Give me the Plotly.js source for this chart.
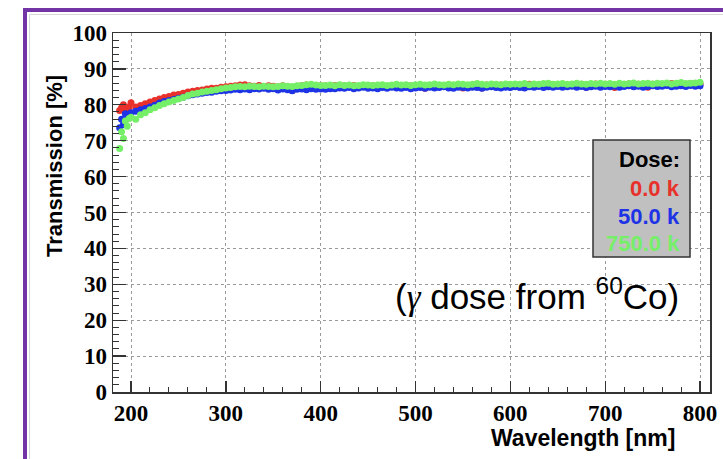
<!DOCTYPE html>
<html>
<head>
<meta charset="utf-8">
<script src="https://cdn.plot.ly/plotly-3.0.1.min.js"></script>
<style>html,body{margin:0;padding:0;background:#fff;}#chart{width:723px;height:459px;}</style>
</head>
<body>
<div id="chart"></div>
<script>
// Wavelength [nm]
var wavelength = [188,190,192,194,196,198,200,
205,210,215,220,225,230,235,240,245,250,
255,260,265,270,275,280,285,290,295,300,
305,310,315,320,325,330,335,340,345,350,
355,360,365,370,375,380,385,390,395,400,
405,410,415,420,425,430,435,440,445,450,
455,460,465,470,475,480,485,490,495,500,
505,510,515,520,525,530,535,540,545,550,
555,560,565,570,575,580,585,590,595,600,
605,610,615,620,625,630,635,640,645,650,
655,660,665,670,675,680,685,690,695,700,
705,710,715,720,725,730,735,740,745,750,
755,760,765,770,775,780,785,790,795,800];

// Transmission [%], dose 0.0 k
var trans0k = [78.4,79.2,80.0,78.8,79.0,79.4,80.6,
79.4,79.8,80.3,80.8,81.2,81.6,82.0,82.3,82.7,82.9,
83.2,83.6,83.8,84.0,84.1,84.4,84.6,84.6,84.9,85.0,
85.2,85.3,85.5,85.6,85.3,85.2,85.4,85.1,85.3,85.2,
85.0,85.3,85.1,84.0,85.2,85.4,85.5,85.6,85.4,85.3,
85.3,85.2,85.4,85.1,85.3,85.2,85.4,85.1,85.3,85.2,
85.3,85.1,85.4,85.2,85.3,85.5,85.2,85.4,85.3,85.2,
85.4,84.6,85.3,85.5,85.4,85.2,85.5,85.3,85.6,84.7,
85.4,85.5,85.6,84.7,85.5,85.4,85.6,85.5,85.3,85.6,
85.5,85.6,85.4,85.7,85.5,85.6,85.4,85.7,85.6,85.5,
85.7,85.5,85.6,85.4,85.7,84.9,85.6,85.8,85.5,85.7,
85.6,84.8,85.7,85.6,85.8,85.5,85.7,85.6,84.9,85.7,
85.8,85.6,85.7,85.9,85.6,85.8,85.7,85.9,85.6,85.8];

// Transmission [%], dose 50.0 k
var trans50k = [73.6,76.0,74.5,77.5,77.0,77.4,77.8,
78.2,78.6,79.0,79.4,79.9,80.5,80.9,81.2,81.5,81.8,
82.1,82.5,82.8,83.0,83.2,83.4,83.5,83.8,83.9,84.0,
84.1,84.3,84.2,84.4,84.2,84.5,84.4,84.6,84.3,84.5,
84.1,84.4,84.2,83.9,84.3,84.4,84.2,84.5,84.3,84.4,
84.3,84.5,84.5,84.7,84.6,84.8,84.5,84.7,84.9,84.6,
84.7,84.5,84.8,84.6,84.9,84.7,84.6,84.8,84.5,84.7,
84.8,84.6,84.9,84.7,84.8,85.0,84.7,84.6,84.9,84.8,
84.7,84.9,84.8,84.6,84.9,85.0,84.8,84.7,84.9,84.8,
85.0,84.8,84.7,85.0,84.9,85.1,84.8,85.0,84.9,85.1,
84.9,85.0,85.2,84.9,85.1,84.8,85.0,85.2,84.9,85.1,
85.0,85.2,84.9,85.1,85.3,85.0,85.2,84.9,85.1,85.3,
85.1,85.2,85.4,85.0,85.2,85.3,85.1,85.4,85.2,85.3];

// Transmission [%], dose 750.0 k
var trans750k = [67.8,72.5,70.6,75.5,74.0,76.2,76.5,
76.0,77.2,77.8,78.6,79.2,79.8,80.3,80.8,81.2,81.6,
82.0,82.6,83.0,83.2,83.6,83.8,84.0,84.2,84.5,84.7,
84.8,85.0,85.1,85.0,85.2,85.1,85.0,85.2,85.1,85.0,
85.1,85.3,85.2,85.1,85.3,85.4,85.6,85.7,85.5,85.4,
85.4,85.5,85.3,85.6,85.4,85.5,85.3,85.4,85.6,85.5,
85.4,85.5,85.6,85.4,85.5,85.7,85.5,85.6,85.4,85.6,
85.7,85.5,85.6,85.8,85.6,85.5,85.7,85.6,85.8,85.7,
85.6,85.7,85.9,85.7,85.6,85.8,85.7,85.6,85.8,85.7,
85.8,85.7,85.9,85.6,85.8,85.7,85.9,86.0,85.7,85.8,
85.9,85.7,85.8,86.0,85.8,85.7,85.9,85.8,86.0,85.8,
85.9,85.7,86.0,85.8,85.9,86.1,85.8,85.9,86.0,85.8,
86.0,85.9,86.1,85.8,86.0,86.2,85.9,86.0,86.1,86.3];

var doseLabels = ["0.0 k", "50.0 k", "750.0 k"];
var seriesColors = ["#e8312a", "#1e33e6", "#76ef68"];
var series = [trans0k, trans50k, trans750k];

var xTickVals = [200,300,400,500,600,700,800];
var yTickVals = [0,10,20,30,40,50,60,70,80,90,100];

var traces = series.map(function(vals, i){
  return {
    type: "scatter", mode: "markers", name: doseLabels[i],
    x: wavelength, y: vals,
    marker: {color: seriesColors[i], size: 7, line: {width: 0}},
    hoverinfo: "skip", showlegend: false
  };
});

var tickFont = {family: "Liberation Serif, Times New Roman, serif", size: 23, color: "#000", weight: "bold"};
var sansBold = "Liberation Sans, Arial, Helvetica, sans-serif";

function px2x(p){ return (p - 113) / 597; }
function px2y(p){ return (392 - p) / 359; }

var annotations = [
  {xref:"paper", yref:"paper", x: px2x(677), y: px2y(438), xanchor:"right", yanchor:"middle",
   text:"Wavelength [nm]", showarrow:false, font:{family:sansBold, size:23, color:"#000", weight:"bold"}},
  {xref:"paper", yref:"paper", x: px2x(55), y: px2y(166), xanchor:"center", yanchor:"middle", textangle:-90,
   text:"Transmission [%]", showarrow:false, font:{family:sansBold, size:22, color:"#000", weight:"bold"}},
  {xref:"paper", yref:"paper", x: px2x(682), y: px2y(159), xanchor:"right", yanchor:"middle",
   text:"Dose:", showarrow:false, font:{family:sansBold, size:22, color:"#000", weight:"bold"}},
  {xref:"paper", yref:"paper", x: px2x(681), y: px2y(294), xanchor:"right", yanchor:"middle",
   text:"(<span style=\"font-family:'Liberation Serif',serif\"><i>γ</i></span> dose from <sup>60</sup>Co)",
   showarrow:false, font:{family:sansBold, size:35, color:"#000"}}
];
var legendY = [188, 216, 243];
doseLabels.forEach(function(lbl, i){
  annotations.push({xref:"paper", yref:"paper", x: px2x(682), y: px2y(legendY[i]), xanchor:"right", yanchor:"middle",
    text: lbl, showarrow:false, font:{family:sansBold, size:22, color:seriesColors[i], weight:"bold"}});
});

var layout = {
  width: 723, height: 459,
  margin: {l:113, r:13, t:33, b:67, pad:0},
  paper_bgcolor: "#fff", plot_bgcolor: "#fff",
  showlegend: false,
  xaxis: {
    range: [181, 810.5], tickvals: xTickVals, ticktext: xTickVals.map(String),
    ticks: "inside", ticklen: 11, tickwidth: 1.3, tickcolor: "#333",
    minor: {ticks: "inside", ticklen: 5, tickwidth: 1, tickcolor: "#333", dtick: 20, tick0: 200, showgrid: false},
    showgrid: true, gridcolor: "#9a9a9a", griddash: "dot", gridwidth: 1,
    showline: true, linecolor: "#333", linewidth: 1.5, mirror: true,
    zeroline: false, tickfont: tickFont, ticklabelstandoff: 0, fixedrange: true
  },
  yaxis: {
    range: [0, 100], tickvals: yTickVals, ticktext: yTickVals.map(String),
    ticks: "inside", ticklen: 13, tickwidth: 1.3, tickcolor: "#333",
    minor: {ticks: "inside", ticklen: 6, tickwidth: 1, tickcolor: "#333", dtick: 2, tick0: 0, showgrid: false},
    showgrid: true, gridcolor: "#9a9a9a", griddash: "dot", gridwidth: 1,
    showline: true, linecolor: "#333", linewidth: 1.5, mirror: true,
    zeroline: false, tickfont: tickFont, ticklabelstandoff: 0, fixedrange: true
  },
  shapes: [
    {type:"rect", xref:"paper", yref:"paper", x0: px2x(25), y0: px2y(10), x1: px2x(760), y1: px2y(500),
     line:{color:"#7334a6", width:4}, fillcolor:"rgba(0,0,0,0)", layer:"above"},
    {type:"rect", xref:"paper", yref:"paper", x0: px2x(29.5), y0: px2y(14.5), x1: px2x(760), y1: px2y(500),
     line:{color:"#d8d8d8", width:1}, fillcolor:"rgba(0,0,0,0)", layer:"above"},
    {type:"rect", xref:"paper", yref:"paper", x0: px2x(593), y0: px2y(140), x1: px2x(690), y1: px2y(257),
     line:{color:"#333", width:1.5}, fillcolor:"#c0c0c0", layer:"above"}
  ],
  annotations: annotations
};

Plotly.newPlot("chart", traces, layout, {displayModeBar:false, staticPlot:true});
</script>
</body>
</html>
